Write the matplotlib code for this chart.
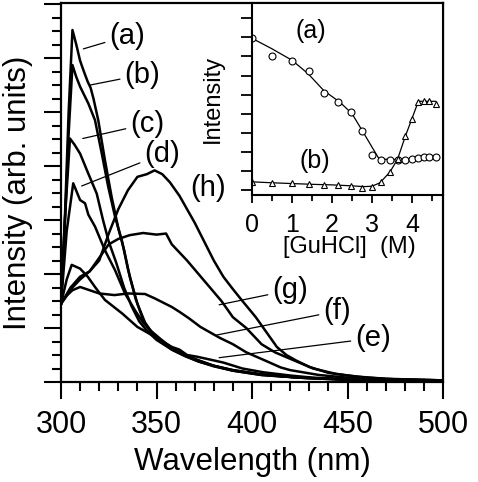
import numpy as np
import matplotlib
matplotlib.use("Agg")
import matplotlib.pyplot as plt
from matplotlib.ticker import MultipleLocator

plt.rcParams['font.family'] = ['Liberation Sans', 'DejaVu Sans']

# emission spectra (wavelength nm, intensity arb.)
wl_a = [300, 302, 304, 306, 308, 310, 312, 314, 315.5, 317, 319.5, 323, 326.5, 330, 333, 336, 340, 344, 348, 352, 358, 365, 372, 380, 390, 405, 425, 450, 475, 500]
int_a = [1.45, 3.0, 5.0, 6.52, 6.25, 5.95, 5.75, 5.56, 5.45, 5.25, 4.85, 4.11, 3.43, 2.85, 2.45, 1.95, 1.45, 1.1, 0.9, 0.78, 0.62, 0.5, 0.4, 0.3, 0.22, 0.14, 0.08, 0.05, 0.03, 0.02]
wl_b = [300, 302, 304, 306, 308, 310, 314.3, 317.8, 321.3, 324.7, 328.3, 332, 335, 339, 343, 347, 352, 358, 365, 372, 380, 390, 405, 425, 450, 500]
int_b = [1.45, 2.9, 4.6, 5.87, 5.65, 5.47, 5.16, 4.85, 4.24, 3.62, 3.06, 2.6, 2.1, 1.55, 1.15, 0.92, 0.76, 0.6, 0.48, 0.38, 0.3, 0.21, 0.13, 0.08, 0.04, 0.02]
wl_c = [300, 302, 304.7, 307, 310, 314.3, 318.7, 322, 325, 329, 333, 337, 341, 345, 350, 358, 365, 372, 380, 390, 405, 425, 450, 500]
int_c = [1.45, 3.0, 4.51, 4.4, 4.23, 3.86, 3.49, 3.0, 2.6, 2.2, 1.75, 1.4, 1.12, 0.95, 0.78, 0.6, 0.48, 0.38, 0.29, 0.21, 0.13, 0.08, 0.04, 0.02]
wl_d = [300, 303, 306.4, 310, 312.6, 314.3, 317.8, 323, 328.3, 333.5, 338.7, 343, 347, 352, 358, 365, 372, 380, 390, 405, 425, 450, 500]
int_d = [1.45, 2.8, 3.68, 3.37, 3.31, 3.1, 2.88, 2.44, 2.07, 1.64, 1.33, 1.1, 0.95, 0.8, 0.63, 0.5, 0.4, 0.3, 0.22, 0.14, 0.08, 0.05, 0.02]
wl_e = [300, 303, 305.6, 310, 314, 318, 323, 332, 340, 349, 358, 362, 366, 371, 380, 385, 395, 406, 420, 432, 450, 500]
int_e = [1.45, 1.9, 2.17, 2.1, 1.95, 1.75, 1.52, 1.27, 1.02, 0.84, 0.65, 0.6, 0.5, 0.47, 0.4, 0.36, 0.25, 0.18, 0.12, 0.08, 0.05, 0.02]
wl_f = [300, 303, 306, 310, 315, 320, 328, 335, 344, 349, 358, 362, 367, 373, 378, 383, 390, 397, 408, 415, 420, 435, 450, 470, 500]
int_f = [1.45, 1.6, 1.7, 1.76, 1.7, 1.64, 1.61, 1.64, 1.63, 1.55, 1.39, 1.3, 1.18, 1.02, 0.92, 0.82, 0.7, 0.55, 0.38, 0.27, 0.22, 0.13, 0.08, 0.05, 0.03]
wl_g = [300, 303, 306, 310, 315, 320, 325, 330, 336, 343, 350, 355, 358, 362, 366, 372, 378, 384, 390, 397, 405, 412, 420, 432, 444, 455, 470, 500]
int_g = [1.45, 1.6, 1.75, 1.9, 2.05, 2.3, 2.55, 2.65, 2.72, 2.76, 2.73, 2.75, 2.55, 2.4, 2.25, 2.0, 1.75, 1.5, 1.2, 1.0, 0.7, 0.55, 0.43, 0.25, 0.15, 0.1, 0.06, 0.03]
wl_h = [300, 305, 310, 315, 320, 325, 330, 335, 340, 345, 349, 353, 357, 362, 366, 370, 375, 380, 385, 390, 395, 402, 408, 413, 418, 423, 430, 440, 450, 460, 475, 500]
int_h = [1.45, 1.75, 1.95, 2.05, 2.25, 2.75, 3.2, 3.55, 3.8, 3.85, 3.92, 3.85, 3.7, 3.45, 3.2, 2.95, 2.6, 2.25, 1.95, 1.72, 1.5, 1.2, 0.9, 0.65, 0.5, 0.4, 0.28, 0.17, 0.12, 0.08, 0.05, 0.03]

# inset: intensity vs [GuHCl]
conc = [0, 0.5, 1.0, 1.43, 1.8, 2.16, 2.48, 2.76, 3.0, 3.23, 3.45, 3.64, 3.83, 4.0, 4.16, 4.3, 4.43, 4.59]
inset_a = [7.95, 7.04, 6.78, 6.24, 5.07, 4.63, 4.07, 3.09, 1.83, 1.57, 1.57, 1.6, 1.57, 1.62, 1.66, 1.75, 1.75, 1.71]
inset_b = [0.43, 0.38, 0.35, 0.31, 0.26, 0.26, 0.21, 0.12, 0.14, 0.43, 0.96, 1.62, 2.85, 3.71, 4.63, 4.68, 4.68, 4.49]
fit_a_x = [0, 0.5, 1.0, 1.4, 1.8, 2.2, 2.5, 2.76, 3.0, 3.18, 3.6, 4.0, 4.59]
fit_a_y = [7.95, 7.4, 6.8, 6.1, 5.2, 4.6, 4.0, 3.1, 2.25, 1.62, 1.6, 1.63, 1.7]
fit_b_x = [0, 0.5, 1.0, 1.5, 2.0, 2.5, 2.8, 3.0, 3.2, 3.45, 3.64, 3.83, 4.0, 4.16, 4.59]
fit_b_y = [0.43, 0.38, 0.34, 0.3, 0.27, 0.22, 0.18, 0.2, 0.38, 0.95, 1.62, 2.8, 3.75, 4.65, 4.65]

W, H = 478, 482
fig = plt.figure(figsize=(W / 100, H / 100), dpi=100)

def px_box(l, r, t, b):
    return [l / W, (H - b) / H, (r - l) / W, (b - t) / H]

ax = fig.add_axes(px_box(61, 443, 3, 382))
curves = [(wl_a, int_a), (wl_b, int_b), (wl_c, int_c), (wl_d, int_d),
          (wl_e, int_e), (wl_f, int_f), (wl_g, int_g), (wl_h, int_h)]
for wl, inten in curves:
    ax.plot(wl, inten, color='black', lw=1.8)

ax.set_xlim(300, 500)
ax.set_ylim(0, 7.02)
ax.xaxis.set_major_locator(MultipleLocator(50))
ax.xaxis.set_minor_locator(MultipleLocator(10))
ax.yaxis.set_major_locator(MultipleLocator(1))
ax.yaxis.set_minor_locator(MultipleLocator(0.25))
ax.tick_params(which='both', direction='out', width=1.5, top=False, right=False)
ax.tick_params(which='major', length=12)
ax.tick_params(which='minor', length=6.5)
ax.tick_params(axis='x', labelsize=22, pad=8)
ax.tick_params(axis='y', labelleft=False)
for s in ax.spines.values():
    s.set_linewidth(1.6)
ax.set_xlabel('Wavelength (nm)', fontsize=22.5, va='center')
ax.xaxis.set_label_coords(0.5, -0.211)
ax.set_ylabel('Intensity (arb. units)', fontsize=22.5, va='center')
ax.yaxis.set_label_coords(-0.113, 0.5)

# curve labels: (text position, point on curve)
labels = {
    '(a)': ((334.5, 6.41), (311.7, 6.17)),
    '(b)': ((342.4, 5.69), (315.2, 5.5)),
    '(c)': ((345.0, 4.78), (311.4, 4.51)),
    '(d)': ((352.8, 4.22), (310.8, 3.63)),
    '(g)': ((419.8, 1.70), (382.8, 1.43)),
    '(f)': ((444.4, 1.31), (381.5, 0.87)),
    '(e)': ((463.2, 0.81), (382.8, 0.45)),
}
for name, (txt, pt) in labels.items():
    ax.annotate(name, xy=pt, xytext=txt, fontsize=21, ha='center', va='center',
                arrowprops=dict(arrowstyle='-', lw=0.9, color='black', shrinkA=1, shrinkB=0))
ax.text(376.9, 3.59, '(h)', fontsize=21, ha='center', va='center')

# inset
ins = fig.add_axes(px_box(252, 443, 3, 195))
ins.plot(fit_a_x, fit_a_y, color='black', lw=0.9)
ins.plot(fit_b_x, fit_b_y, color='black', lw=0.9)
ins.plot(conc, inset_a, 'o', mfc='white', mec='black', ms=5, mew=0.8)
ins.plot(conc, inset_b, '^', mfc='white', mec='black', ms=5, mew=0.8)
ins.set_xlim(0, 4.775)
ins.set_ylim(-0.26, 9.8)
ins.xaxis.set_major_locator(MultipleLocator(1))
ins.xaxis.set_minor_locator(MultipleLocator(0.5))
ins.yaxis.set_major_locator(MultipleLocator(1))
ins.tick_params(which='both', direction='out', width=1.3, top=False, right=False)
ins.tick_params(which='major', length=6)
ins.tick_params(which='minor', length=4)
ins.tick_params(axis='y', length=8, labelleft=False)
ins.tick_params(axis='x', labelsize=18, pad=7)
for s in ins.spines.values():
    s.set_linewidth(1.5)
ins.set_ylabel('Intensity', fontsize=17, va='center')
ins.yaxis.set_label_coords(-0.204, 0.5)
ins.set_xlabel('[GuHCl]  (M)', fontsize=17, va='center')
ins.xaxis.set_label_coords(0.508, -0.27)
ins.text(1.48, 8.35, '(a)', fontsize=18, ha='center', va='center')
ins.text(1.58, 1.5, '(b)', fontsize=18, ha='center', va='center')

fig.savefig('out.png', dpi=100)
